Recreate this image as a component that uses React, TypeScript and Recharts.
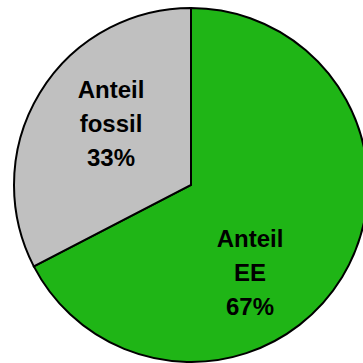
import * as React from 'react';
import { PieChart, Pie, Cell } from 'recharts';

const names = ['Anteil EE', 'Anteil fossil'];
const values = [67.4, 32.6];
const colors = ['#1fb516', '#c0c0c0'];

const data = names.map((name, i) => ({ name, value: values[i] }));

const RADIAN = Math.PI / 180;
// label placement tweaks (angle shift in degrees, radius fraction)
const labelShift = [-24.6, -6.5];
const labelRadius = [0.595, 0.572];

const renderLabel = (props: any) => {
    const { cx, cy, midAngle, outerRadius, index, name, percent } = props;
    const a = (midAngle + labelShift[index]) * RADIAN;
    const r = outerRadius * labelRadius[index];
    const x = cx + r * Math.cos(a);
    const y = cy - r * Math.sin(a);
    const parts = String(name).split(' ');
    const lines = [...parts, Math.round(percent * 100) + '%'];
    const lh = 34;
    const y0 = y - ((lines.length - 1) * lh) / 2;
    return (
        <text
            x={x}
            y={y0}
            textAnchor="middle"
            dominantBaseline="central"
            fill="#000"
            fontFamily="'Liberation Sans', Arial, sans-serif"
            fontWeight="bold"
            fontSize={24}
        >
            {lines.map((l, i) => (
                <tspan key={i} x={x} y={y0 + i * lh}>{l}</tspan>
            ))}
        </text>
    );
};

export default function App() {
    return (
        <div style={{ position: 'absolute', left: 0, top: 0, width: 363, height: 363, background: '#fff' }}>
            <PieChart width={363} height={363} margin={{ top: 0, right: 0, bottom: 0, left: 0 }}>
                <Pie
                    data={data}
                    dataKey="value"
                    nameKey="name"
                    cx={191}
                    cy={185}
                    outerRadius={177}
                    startAngle={90}
                    endAngle={-270}
                    stroke="#000"
                    strokeWidth={2}
                    label={renderLabel}
                    labelLine={false}
                    isAnimationActive={false}
                >
                    {data.map((d, i) => (
                        <Cell key={d.name} fill={colors[i]} />
                    ))}
                </Pie>
            </PieChart>
        </div>
    );
}
